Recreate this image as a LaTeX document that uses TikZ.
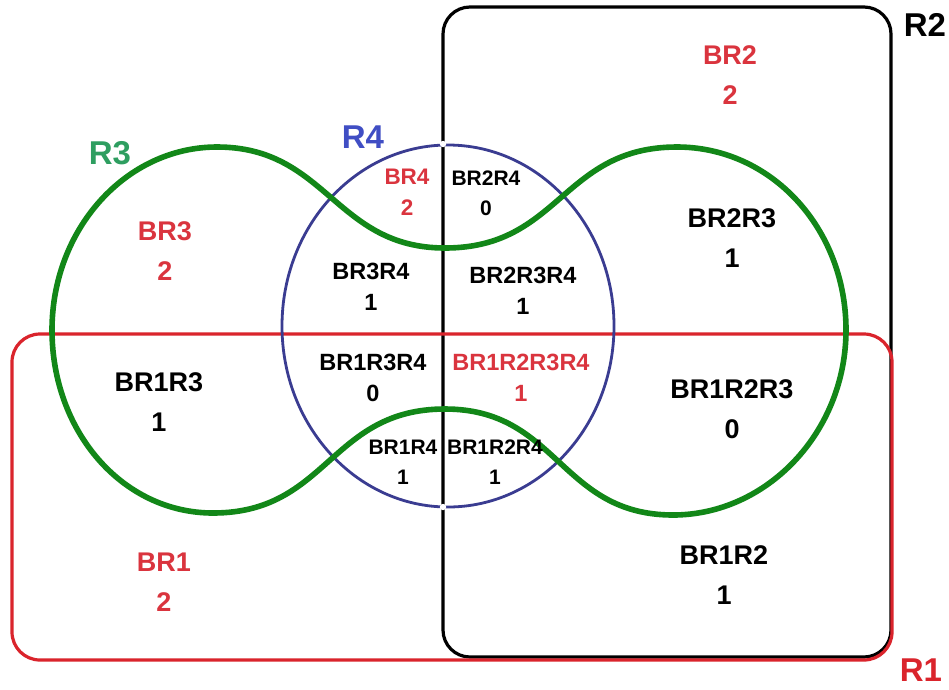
\documentclass[tikz,border=0pt]{standalone}
\usepackage{fontspec}
\setmainfont{Liberation Sans}
\definecolor{rred}{RGB}{218,36,44}
\definecolor{tred}{RGB}{218,52,62}
\definecolor{ggreen}{RGB}{18,135,24}
\definecolor{lgreen}{RGB}{46,158,96}
\definecolor{cblue}{RGB}{58,60,145}
\definecolor{lblue}{RGB}{64,78,196}
\begin{document}
\begin{tikzpicture}[x=1pt,y=-1pt,
  big/.style={font=\bfseries\fontsize{27}{40}\selectfont, align=center, inner sep=0pt},
  mid/.style={font=\bfseries\fontsize{23.5}{31}\selectfont, align=center, inner sep=0pt},
  sml/.style={font=\bfseries\fontsize{21}{30}\selectfont, align=center, inner sep=0pt},
  ttl/.style={font=\bfseries\fontsize{33}{36}\selectfont, inner sep=0pt},
  setR2/.style={draw=black, line width=3.2pt, rounded corners=27pt},
  setR1/.style={draw=rred, line width=3.2pt, rounded corners=28pt},
  setR4/.style={draw=cblue, line width=2.8pt},
  setR3/.style={draw=ggreen, line width=5.6pt}]
\useasboundingbox (0,0) rectangle (949,689);
\fill[white] (0,0) rectangle (949,689);
% R2
\draw[setR2] (443,7) rectangle (891,657);
% R1
\draw[setR1] (12,334) rectangle (892,660);
% R4
\draw[setR4] (448,326) ellipse [x radius=166pt, y radius=181pt];
% R3
\draw[setR3] (445,248) .. controls (335,248) and (327,147) .. (217,147)
  .. controls (126,147) and (52,229) .. (52,330)
  .. controls (52,431) and (122,513) .. (213,513)
  .. controls (328,513) and (330,409) .. (445,409)
  .. controls (558,409) and (560,515) .. (673,515)
  .. controls (767,515) and (846,432) .. (846,330)
  .. controls (846,228) and (771,147) .. (677,147)
  .. controls (562,147) and (560,248) .. (445,248) -- cycle;
% small white breaks
\fill[white] (443,144) circle (3.2pt);
\fill[white] (443,507) circle (3.2pt);
% set labels
\node[ttl, text=black] (lR2) at (925,25) {R2};
\node[ttl, text=rred] (lR1) at (921,670) {R1};
\node[ttl, text=lgreen] (lR3) at (110,153) {R3};
\node[ttl, text=lblue] (lR4) at (363,137) {R4};
% region labels
\node[big, text=tred] (br2) at (730,75) {BR2\\2};
\node[big, text=tred] (br3) at (165,251) {BR3\\2};
\node[big, text=tred] (br1) at (164,582) {BR1\\2};
\node[big] (br2r3) at (732,238) {BR2R3\\1};
\node[big] (br1r3) at (159,402) {BR1R3\\1};
\node[big] (br1r2r3) at (732,409) {BR1R2R3\\0};
\node[big] (br1r2) at (724,575) {BR1R2\\1};
\node[mid] (br3r4) at (371,287) {BR3R4\\1};
\node[mid] (br2r3r4) at (523,291) {BR2R3R4\\1};
\node[mid] (br1r3r4) at (373,378) {BR1R3R4\\0};
\node[mid, text=tred] (br1r2r3r4) at (521,378) {BR1R2R3R4\\1};
\node[font=\bfseries\fontsize{22.5}{31}\selectfont, align=center, inner sep=0pt, text=tred] (br4) at (407,192) {BR4\\2};
\node[sml] (br2r4) at (486,193) {BR2R4\\0};
\node[sml] (br1r4) at (403,462) {BR1R4\\1};
\node[sml] (br1r2r4) at (495,462) {BR1R2R4\\1};
\end{tikzpicture}
\end{document}
